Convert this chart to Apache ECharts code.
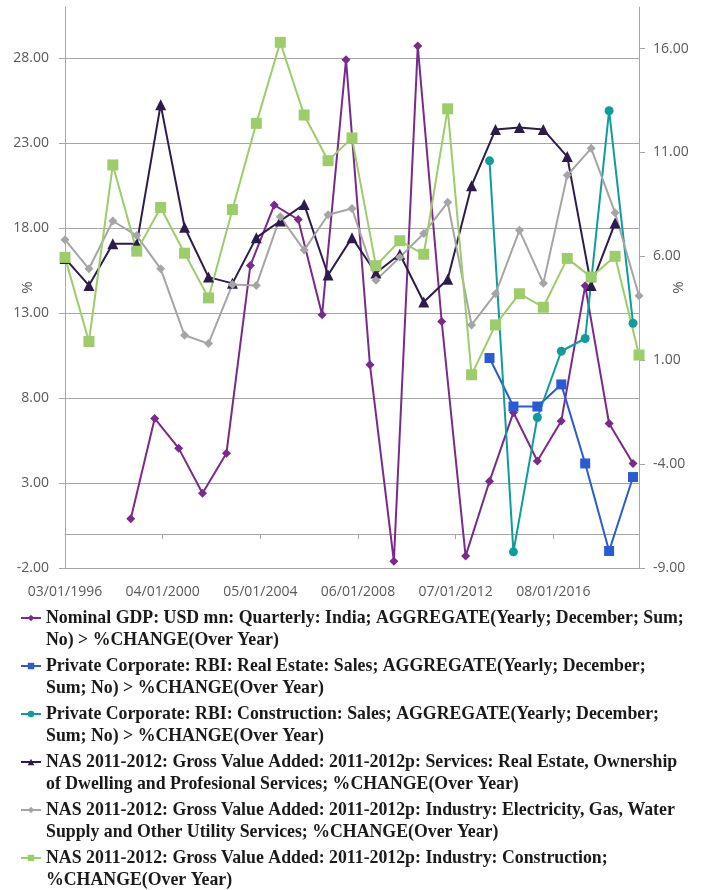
<!DOCTYPE html>
<html>
<head>
<meta charset="utf-8">
<script src="https://cdn.jsdelivr.net/npm/echarts@6/dist/echarts.min.js"></script>
<style>
  html, body { margin: 0; padding: 0; background: #ffffff; }
  #chart { width: 704px; height: 890px; }
</style>
</head>
<body>
<div id="chart"></div>
<script>
// Fiscal-year (March) observations for the NAS series
const nasDates = ['1996-03','1997-03','1998-03','1999-03','2000-03','2001-03','2002-03','2003-03',
  '2004-03','2005-03','2006-03','2007-03','2008-03','2009-03','2010-03','2011-03','2012-03',
  '2013-03','2014-03','2015-03','2016-03','2017-03','2018-03','2019-03','2020-03'];
// Calendar-year (December) observations
const gdpDates = ['1998-12','1999-12','2000-12','2001-12','2002-12','2003-12','2004-12','2005-12',
  '2006-12','2007-12','2008-12','2009-12','2010-12','2011-12','2012-12','2013-12','2014-12',
  '2015-12','2016-12','2017-12','2018-12','2019-12'];
const rbiDates = ['2013-12','2014-12','2015-12','2016-12','2017-12','2018-12','2019-12'];

// % change over year, left axis
const nominalGdp = [0.9, 6.8, 5.05, 2.4, 4.75, 15.8, 19.35, 18.5, 12.9, 27.9, 9.95, -1.6, 28.7, 12.5,
  -1.3, 3.1, 7.15, 4.3, 6.65, 14.6, 6.5, 4.15];
const realEstateSales = [10.35, 7.5, 7.5, 8.8, 4.15, -1.0, 3.35];
const constructionSales = [21.95, -1.05, 6.85, 10.75, 11.5, 24.9, 12.4];

// % change over year, right axis
const servicesRealEstate = [5.9, 4.6, 6.6, 6.6, 13.3, 7.4, 5.0, 4.7, 6.9, 7.7, 8.5, 5.1, 6.9, 5.2, 6.1,
  3.8, 4.9, 9.4, 12.1, 12.2, 12.1, 10.8, 4.6, 7.6];
const electricityGas = [6.8, 5.4, 7.7, 7.0, 5.4, 2.2, 1.8, 4.65, 4.6, 7.9, 6.3, 8.0, 8.3, 4.85, 5.95,
  7.1, 8.6, 2.7, 4.2, 7.25, 4.7, 9.9, 11.2, 8.1, 4.1];
const constructionGva = [5.95, 1.9, 10.4, 6.25, 8.35, 6.15, 4.0, 8.25, 12.4, 16.3, 12.8, 10.6, 11.7,
  5.55, 6.75, 6.1, 13.1, 0.3, 2.7, 4.2, 3.55, 5.9, 5.0, 6.0, 1.25];

const leftTicks = [-2, 3, 8, 13, 18, 23, 28];
const rightTicks = [-9, -4, 1, 6, 11, 16];

const seriesNames = [
  'Nominal GDP: USD mn: Quarterly: India; AGGREGATE(Yearly; December; Sum;\nNo) > %CHANGE(Over Year)',
  'Private Corporate: RBI: Real Estate: Sales; AGGREGATE(Yearly; December;\nSum; No) > %CHANGE(Over Year)',
  'Private Corporate: RBI: Construction: Sales; AGGREGATE(Yearly; December;\nSum; No) > %CHANGE(Over Year)',
  'NAS 2011-2012: Gross Value Added: 2011-2012p: Services: Real Estate, Ownership\nof Dwelling and Profesional Services; %CHANGE(Over Year)',
  'NAS 2011-2012: Gross Value Added: 2011-2012p: Industry: Electricity, Gas, Water\nSupply and Other Utility Services; %CHANGE(Over Year)',
  'NAS 2011-2012: Gross Value Added: 2011-2012p: Industry: Construction;\n%CHANGE(Over Year)'
];

// x positions are months counted from March 1996
function monthIndex(s) {
  const parts = s.split('-').map(Number);
  return (parts[0] - 1996) * 12 + (parts[1] - 3);
}
function pairs(dates, values) {
  return values.map((v, i) => [monthIndex(dates[i]), v]);
}
function fmtDate(v) {
  const t = 2 + Math.round(v);
  const y = 1996 + Math.floor(t / 12);
  const m = (t % 12) + 1;
  return String(m).padStart(2, '0') + '/01/' + y;
}

const axisGray = '#a6a6a6';
const labelGray = '#595959';
const labelFont = { color: labelGray, fontSize: 14, fontFamily: 'Open Sans' };

function lineSeries(name, data, color, symbol, size, yIndex) {
  return {
    name: name,
    type: 'line',
    xAxisIndex: 0,
    yAxisIndex: yIndex,
    data: data,
    symbol: symbol,
    symbolSize: size,
    showAllSymbol: true,
    itemStyle: { color: color },
    lineStyle: { color: color, width: 2 },
    emphasis: { disabled: true },
    animation: false
  };
}

const chart = echarts.init(document.getElementById('chart'), null, { renderer: 'canvas' });
chart.setOption({
  backgroundColor: '#ffffff',
  animation: false,
  grid: [
    { left: 65, right: 65, top: 7, bottom: 322, containLabel: false, outerBoundsMode: 'none' },
    // carries the horizontal axis line that crosses the left scale at 0
    { left: 65, right: 65, top: 7, bottom: 356, containLabel: false, outerBoundsMode: 'none' }
  ],
  xAxis: [
    {
      type: 'value', gridIndex: 0, min: 0, max: 288, interval: 49, position: 'bottom',
      axisLine: { show: false, onZero: false },
      axisTick: { show: false },
      splitLine: { show: false },
      axisLabel: Object.assign({ formatter: fmtDate, showMaxLabel: false, margin: 17 }, labelFont)
    },
    {
      type: 'value', gridIndex: 1, min: 0, max: 288, interval: 49, position: 'bottom',
      axisLine: { show: true, onZero: false, lineStyle: { color: axisGray, width: 1 } },
      axisTick: { show: true, length: 5, lineStyle: { color: axisGray } },
      axisLabel: { show: false },
      splitLine: { show: false }
    }
  ],
  yAxis: [
    {
      type: 'value', gridIndex: 0, min: -2, max: 31, position: 'left',
      name: '%', nameLocation: 'middle', nameGap: 30, nameRotate: 90, nameMoveOverlap: false,
      nameTextStyle: { color: labelGray, fontSize: 15, fontFamily: 'Open Sans' },
      axisLine: { show: true, onZero: false, lineStyle: { color: axisGray, width: 1 } },
      axisTick: { show: true, length: 6, customValues: leftTicks, lineStyle: { color: axisGray } },
      axisLabel: Object.assign({ customValues: leftTicks, formatter: v => v.toFixed(2), margin: 16 }, labelFont),
      splitLine: { show: true, lineStyle: { color: axisGray, width: 1 } }
    },
    {
      type: 'value', gridIndex: 0, min: -9, max: 18, position: 'right',
      name: '%', nameLocation: 'middle', nameGap: 32, nameRotate: 90, nameMoveOverlap: false,
      nameTextStyle: { color: labelGray, fontSize: 15, fontFamily: 'Open Sans' },
      axisLine: { show: true, onZero: false, lineStyle: { color: axisGray, width: 1 } },
      axisTick: { show: true, length: 6, customValues: rightTicks, lineStyle: { color: axisGray } },
      axisLabel: Object.assign({ customValues: rightTicks, formatter: v => v.toFixed(2), margin: 14 }, labelFont),
      splitLine: { show: false }
    },
    { type: 'value', gridIndex: 1, show: false, min: 0, max: 1 }
  ],
  legend: {
    orient: 'vertical', left: 15, top: 604, height: 300, padding: 5,
    itemWidth: 20, itemHeight: 8, itemGap: 8,
    selectedMode: false,
    formatter: name => name.split('\n').map(s => '{t|' + s + '}').join('\n'),
    textStyle: {
      padding: [22, 0, 0, 0],
      rich: {
        t: { fontFamily: 'Liberation Serif', fontWeight: 'bold', fontSize: 17.8, color: '#1a1a1a', lineHeight: 22 }
      }
    },
    data: seriesNames
  },
  series: [
    lineSeries(seriesNames[0], pairs(gdpDates, nominalGdp), '#7a2a8c', 'diamond', 9, 0),
    lineSeries(seriesNames[1], pairs(rbiDates, realEstateSales), '#2a5ad4', 'rect', 10, 0),
    lineSeries(seriesNames[2], pairs(rbiDates, constructionSales), '#109c9c', 'circle', 9, 0),
    lineSeries(seriesNames[3], pairs(nasDates, servicesRealEstate), '#2d1b4e', 'triangle', 11, 1),
    lineSeries(seriesNames[4], pairs(nasDates, electricityGas), '#a5a5a5', 'diamond', 9, 1),
    lineSeries(seriesNames[5], pairs(nasDates, constructionGva), '#9dcc6a', 'rect', 11, 1)
  ]
});
</script>
</body>
</html>
